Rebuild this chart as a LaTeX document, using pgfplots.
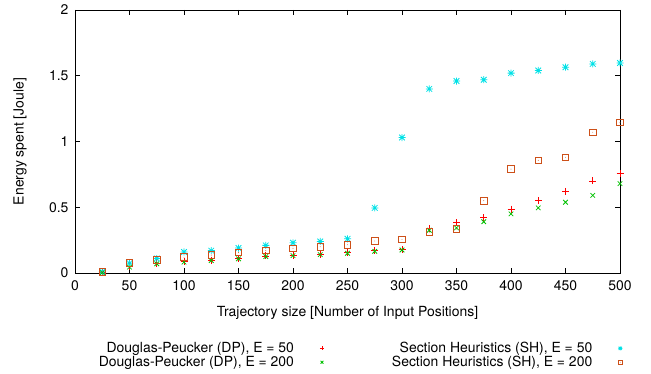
\documentclass[border=0pt]{standalone}
\usepackage{fontspec}
\setmainfont{TeX Gyre Heros}
\usepackage{pgfplots}
\pgfplotsset{compat=1.18}
\definecolor{gpred}{RGB}{255,0,0}
\definecolor{gpgreen}{RGB}{0,192,0}
\definecolor{gpcyan}{RGB}{0,225,230}
\definecolor{gporange}{RGB}{205,80,25}
\pgfdeclareplotmark{sqdot}{%
  \pgfpathrectangle{\pgfpoint{-\pgfplotmarksize}{-\pgfplotmarksize}}{\pgfpoint{2\pgfplotmarksize}{2\pgfplotmarksize}}%
  \pgfusepathqstroke
  \pgfpathcircle{\pgfpointorigin}{0.45pt}\pgfusepathqfill}
\pgfdeclareplotmark{gpstar}{%
  \pgfpathmoveto{\pgfpoint{-\pgfplotmarksize}{0pt}}\pgfpathlineto{\pgfpoint{\pgfplotmarksize}{0pt}}%
  \pgfpathmoveto{\pgfpoint{0pt}{-\pgfplotmarksize}}\pgfpathlineto{\pgfpoint{0pt}{\pgfplotmarksize}}%
  \pgfpathmoveto{\pgfpoint{-0.8\pgfplotmarksize}{-0.8\pgfplotmarksize}}\pgfpathlineto{\pgfpoint{0.8\pgfplotmarksize}{0.8\pgfplotmarksize}}%
  \pgfpathmoveto{\pgfpoint{-0.8\pgfplotmarksize}{0.8\pgfplotmarksize}}\pgfpathlineto{\pgfpoint{0.8\pgfplotmarksize}{-0.8\pgfplotmarksize}}%
  \pgfusepathqstroke}
\newcommand{\gpfont}{\fontsize{14}{16}\selectfont}
\begin{document}
\begin{tikzpicture}
\useasboundingbox (-75bp,-101bp) rectangle (576bp,273bp);
\begin{axis}[
  scale only axis,
  width=545bp, height=263bp,
  xmin=0, xmax=500, ymin=0, ymax=2,
  xtick={0,50,...,500},
  ytick={0,0.5,1,1.5,2},
  yticklabels={0,0.5,1,1.5,2},
  tick align=inside,
  major tick length=5bp,
  axis line style={line width=0.9pt},
  tick style={line width=0.7pt, black},
  /pgf/number format/assume math mode=true,
  tick label style={font=\gpfont},
  label style={font=\gpfont},
  xticklabel style={yshift=-4bp},
  yticklabel style={xshift=-3bp},
  xlabel={Trajectory size [Number of Input Positions]},
  ylabel={Energy spent [Joule]},
  xlabel style={at={(axis description cs:0.5,-0.152)}, anchor=center},
  ylabel style={at={(axis description cs:-0.101,0.5)}, anchor=center},
  legend columns=2,
  legend plot pos=right,
  legend cell align=right,
  legend image post style={mark size=2bp},
  legend style={draw=none, fill=none, font=\gpfont,
    at={(1.010,-0.248)}, anchor=north east,
    row sep=-2bp,
    /tikz/column sep=24bp,
    /tikz/every even column/.append style={column sep=66bp}},
]
\addplot[only marks, mark=+, mark size=3.5bp, color=gpred, mark options={line width=0.8pt}] coordinates {
(25,0.005)(50,0.048)(75,0.073)(100,0.086)(125,0.098)(150,0.11)(175,0.13)(200,0.134)(225,0.144)(250,0.154)
(275,0.17)(300,0.177)(325,0.336)(350,0.384)(375,0.42)(400,0.485)(425,0.55)(450,0.62)(475,0.70)(500,0.757)};
\addlegendentry{Douglas-Peucker (DP), E = 50}
\addplot[only marks, mark=gpstar, mark size=3.5bp, color=gpcyan, mark options={line width=0.8pt}] coordinates {
(25,0.01)(50,0.075)(75,0.11)(100,0.16)(125,0.17)(150,0.19)(175,0.21)(200,0.23)(225,0.24)(250,0.26)
(275,0.495)(300,1.03)(325,1.40)(350,1.46)(375,1.47)(400,1.52)(425,1.54)(450,1.565)(475,1.59)(500,1.597)};
\addlegendentry{Section Heuristics (SH), E = 50}
\addplot[only marks, mark=x, mark size=3.2bp, color=gpgreen, mark options={line width=0.8pt}] coordinates {
(25,0.003)(50,0.045)(75,0.07)(100,0.083)(125,0.095)(150,0.108)(175,0.125)(200,0.132)(225,0.14)(250,0.15)
(275,0.165)(300,0.175)(325,0.325)(350,0.343)(375,0.39)(400,0.45)(425,0.495)(450,0.538)(475,0.59)(500,0.68)};
\addlegendentry{Douglas-Peucker (DP), E = 200}
\addplot[only marks, mark=sqdot, mark size=3.3bp, color=gporange, mark options={line width=0.9pt}] coordinates {
(25,0.01)(50,0.076)(75,0.10)(100,0.12)(125,0.136)(150,0.155)(175,0.17)(200,0.187)(225,0.20)(250,0.215)
(275,0.243)(300,0.255)(325,0.31)(350,0.336)(375,0.55)(400,0.79)(425,0.856)(450,0.88)(475,1.07)(500,1.144)};
\addlegendentry{Section Heuristics (SH), E = 200}
\end{axis}
\end{tikzpicture}
\end{document}
